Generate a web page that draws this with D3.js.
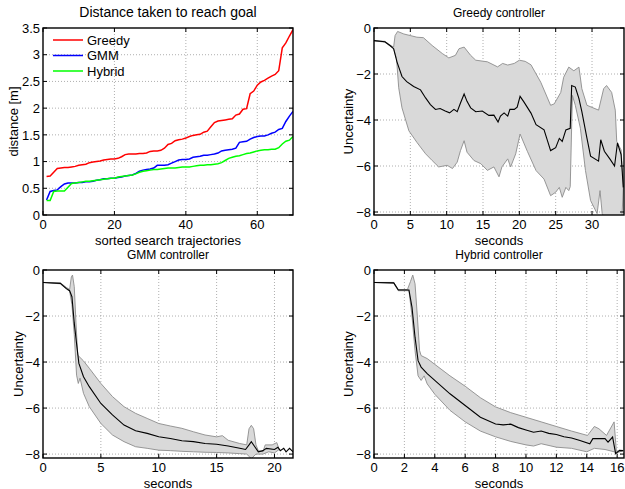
<!DOCTYPE html>
<html>
<head>
<meta charset="utf-8">
<script src="https://cdn.jsdelivr.net/npm/d3@7"></script>
<style>
  body { margin: 0; background: #fff; }
  svg { display: block; font-family: "Liberation Sans", Arial, sans-serif; }
</style>
</head>
<body>
<div id="chart"></div>
<script>
// ---- data ----
const trajIndex = d3.range(1, 71);
const greedyDist = [0.72,0.73,0.8,0.87,0.88,0.89,0.89,0.9,0.91,0.93,0.94,0.95,0.98,0.99,1.0,1.01,1.03,1.04,1.05,1.05,
  1.06,1.09,1.13,1.14,1.14,1.14,1.15,1.15,1.16,1.19,1.2,1.2,1.21,1.25,1.32,1.34,1.39,1.41,1.42,1.44,
  1.47,1.49,1.5,1.51,1.55,1.57,1.65,1.73,1.76,1.77,1.78,1.79,1.8,1.87,1.89,1.98,1.99,2.27,2.32,2.43,
  2.49,2.52,2.56,2.6,2.63,2.7,3.13,3.22,3.35,3.47];
const gmmDist = [0.28,0.44,0.46,0.47,0.53,0.58,0.6,0.6,0.6,0.61,0.61,0.62,0.62,0.63,0.65,0.66,0.68,0.68,0.69,0.69,
  0.7,0.71,0.73,0.74,0.75,0.78,0.82,0.84,0.85,0.86,0.88,0.93,0.93,0.93,0.94,0.97,1.0,1.03,1.04,1.04,
  1.05,1.08,1.09,1.1,1.12,1.12,1.13,1.14,1.16,1.2,1.21,1.22,1.23,1.25,1.36,1.37,1.38,1.42,1.45,1.47,
  1.48,1.48,1.5,1.53,1.55,1.6,1.62,1.75,1.85,1.94];
const hybridDist = [0.27,0.27,0.44,0.45,0.45,0.45,0.52,0.59,0.6,0.61,0.62,0.63,0.63,0.64,0.65,0.66,0.67,0.68,0.69,0.69,
  0.71,0.72,0.73,0.74,0.75,0.77,0.8,0.82,0.83,0.84,0.85,0.85,0.86,0.87,0.88,0.88,0.88,0.89,0.9,0.9,
  0.9,0.91,0.92,0.93,0.93,0.94,0.94,0.95,0.96,0.98,1.02,1.06,1.08,1.1,1.11,1.13,1.15,1.16,1.18,1.2,
  1.21,1.22,1.22,1.23,1.23,1.26,1.33,1.38,1.4,1.47];

// [seconds, uncertainty]
const greedyMean = [[0,-0.55],[1.5,-0.6],[2.2,-0.76],[2.7,-0.9],[3.16,-1.47],[3.85,-2.11],[4.5,-2.33],[5.46,-2.54],
  [6.4,-2.69],[7.1,-3.04],[7.76,-3.33],[8.46,-3.54],[9.1,-3.5],[9.8,-3.61],[10.4,-3.69],[11.0,-3.54],[11.45,-3.64],
  [11.9,-3.26],[12.4,-2.87],[12.8,-3.19],[13.3,-3.47],[14,-3.64],[14.9,-3.61],[15.8,-3.8],[16.5,-3.79],[17.07,-4.09],
  [17.4,-3.83],[17.9,-3.69],[18.4,-3.83],[18.7,-3.54],[19.3,-3.54],[19.7,-3.44],[20.1,-2.97],[20.6,-3.2],[21.6,-3.7],
  [22.3,-4.2],[23.4,-4.43],[23.9,-4.93],[24.3,-5.33],[25,-5.2],[25.5,-4.8],[25.9,-4.93],[26.4,-4.43],[27,-4.36],
  [27.2,-2.5],[27.7,-2.57],[28.2,-3.07],[28.6,-3.64],[29.3,-4.79],[29.8,-5.57],[30.9,-5.79],[31.2,-4.86],[31.7,-5.36],
  [32.5,-5.71],[33.1,-6.0],[33.5,-5.0],[34.0,-5.5],[34.3,-6.93]];
const greedyUpper = [[0,-0.55],[1.5,-0.58],[2.2,-0.74],[2.7,-0.83],[2.9,-0.33],[3.25,-0.15],[4.1,-0.26],[5.9,-0.4],
  [6.8,-0.42],[8,-0.76],[9.4,-1.11],[10.3,-1.3],[11.2,-1.19],[11.7,-0.9],[12.4,-0.83],[13.3,-1.19],[14,-1.4],
  [15.6,-1.47],[17,-1.69],[17.7,-1.54],[18.4,-1.61],[19.3,-1.54],[20,-1.4],[20.8,-1.45],[21.6,-1.6],[22.95,-2.36],
  [24.3,-3.36],[24.8,-3.3],[25.7,-2.8],[26.1,-2.14],[26.8,-1.7],[27.5,-1.86],[28.2,-1.7],[28.6,-2.64],[29.3,-3.36],
  [30.9,-3.57],[31.6,-2.64],[32.0,-2.5],[32.7,-2.8],[33.2,-3.57],[33.4,-4.93],[34.0,-5.3],[34.3,-6.8]];
const greedyLower = [[0,-0.55],[1.5,-0.62],[2.2,-0.78],[2.7,-0.9],[3.1,-1.33],[3.4,-2.6],[3.85,-3.47],[4.8,-4.47],
  [5.9,-4.97],[7.1,-5.47],[8,-5.76],[8.9,-6.04],[10.07,-5.97],[10.8,-6.11],[11.45,-5.83],[11.9,-5.33],[12.4,-4.9],
  [12.8,-5.4],[13.75,-5.76],[14.7,-5.9],[15.6,-6.19],[16.5,-6.04],[17.2,-6.47],[17.6,-6.04],[18.4,-5.69],[18.8,-6.04],
  [19.5,-5.47],[20.1,-4.61],[21.1,-5.36],[22.3,-6.2],[23.4,-6.57],[24.3,-7.29],[25,-7.14],[25.5,-6.93],[25.9,-7.36],
  [26.4,-6.93],[26.8,-7.07],[27.0,-6.9],[27.3,-2.93],[27.7,-3.36],[28.4,-4.36],[29.1,-6.2],[29.8,-7.5],[30.7,-8.07],
  [31.1,-7.07],[31.4,-8.07],[32.3,-8.6],[33,-9],[34,-9],[34.3,-7.0]];

const gmmMean = [[0,-0.54],[1.5,-0.58],[2,-0.8],[2.3,-0.9],[2.5,-1.16],[2.7,-2.3],[2.9,-3.2],[3.1,-4.06],[3.5,-4.64],
  [4,-5.07],[5,-5.8],[6,-6.3],[7,-6.74],[8,-6.99],[9,-7.1],[10,-7.25],[11,-7.32],[12,-7.42],[13,-7.46],[14,-7.54],
  [15,-7.57],[16,-7.65],[17,-7.75],[17.5,-7.8],[17.8,-7.6],[18,-7.46],[18.3,-7.68],[18.6,-7.9],[19,-7.85],[19.3,-7.75],
  [20,-7.8],[20.3,-7.7],[20.5,-7.85],[20.8,-7.75],[21,-7.9],[21.3,-7.75],[21.5,-7.85],[21.6,-7.9]];
const gmmUpper = [[0,-0.54],[1.5,-0.56],[2,-0.75],[2.3,-0.85],[2.45,-0.3],[2.55,-0.22],[2.7,-0.72],[2.85,-2.3],
  [3.0,-3.7],[3.5,-3.95],[4,-4.27],[5,-4.93],[6,-5.5],[7,-5.94],[8,-6.23],[9,-6.45],[10,-6.67],[11,-6.78],[12,-6.88],
  [13,-7.03],[14,-7.17],[15,-7.25],[15.5,-7.2],[16,-7.4],[17,-7.54],[17.6,-7.6],[17.8,-6.9],[18,-6.75],[18.2,-6.9],
  [18.4,-7.6],[18.6,-7.85],[19,-7.9],[19.2,-7.6],[19.8,-7.6],[20.2,-7.5],[20.4,-7.8]];
const gmmLower = [[0,-0.54],[1.5,-0.6],[2,-0.82],[2.3,-0.92],[2.5,-1.5],[2.7,-2.8],[2.9,-4.57],[3.05,-4.93],
  [3.2,-4.7],[3.5,-5.36],[4,-5.94],[5,-6.67],[6,-7.17],[7,-7.46],[8,-7.68],[9,-7.75],[10,-7.83],[11,-7.85],[12,-7.88],
  [13,-7.9],[14,-7.92],[15,-7.93],[16,-7.95],[17,-7.98],[17.6,-8.0],[18,-8.2],[18.4,-8.0],[19,-8.0],[19.5,-7.9],
  [20,-7.95],[20.4,-7.8]];

const hybridMean = [[0,-0.54],[1.3,-0.56],[1.6,-0.87],[2.3,-0.87],[2.5,-1.62],[2.7,-2.92],[2.9,-3.94],[3.1,-4.22],
  [3.5,-4.5],[4,-4.8],[5,-5.38],[6,-5.89],[7,-6.4],[8,-6.69],[8.5,-6.73],[9,-6.7],[9.5,-6.85],[10,-6.95],[10.5,-7.05],
  [11,-7.0],[11.5,-7.1],[12,-7.15],[12.5,-7.25],[13,-7.3],[13.5,-7.4],[14.2,-7.55],[14.4,-7.33],[15.2,-7.33],
  [15.4,-7.48],[15.7,-7.26],[15.9,-7.98],[16.15,-7.84],[16.4,-7.85]];
const hybridUpper = [[0,-0.54],[1.3,-0.54],[1.6,-0.85],[2.2,-0.85],[2.4,-0.5],[2.55,-0.22],[2.7,-0.6],[2.85,-2.0],
  [3.0,-3.5],[3.1,-3.72],[3.5,-3.85],[4,-4.1],[5,-4.6],[6,-5.05],[7,-5.55],[8,-5.95],[9,-6.2],[10,-6.4],[11,-6.6],
  [12,-6.8],[13,-7.0],[14.05,-7.19],[14.5,-6.8],[14.8,-6.9],[15.3,-7.19],[15.8,-6.6],[15.95,-7.9],[16.4,-7.85]];
const hybridLower = [[0,-0.54],[1.3,-0.58],[1.6,-0.9],[2.3,-0.9],[2.5,-2.0],[2.7,-3.5],[2.9,-4.6],[3.1,-4.8],
  [3.3,-4.6],[3.5,-4.95],[4,-5.4],[5,-6.1],[6,-6.6],[7,-7.0],[8,-7.25],[9,-7.45],[10,-7.6],[10.5,-7.65],[11,-7.55],
  [12,-7.7],[13,-7.75],[14,-7.9],[14.5,-7.75],[15.2,-7.8],[15.8,-7.9],[15.95,-7.95],[16.4,-7.85]];

const distTicksX = [0, 20, 40, 60];
const distTicksY = [0, 0.5, 1, 1.5, 2, 2.5, 3, 3.5];
const uncTicksY = [0, -2, -4, -6, -8];
const greedyTicksX = [0, 5, 10, 15, 20, 25, 30];
const gmmTicksX = [0, 5, 10, 15, 20];
const hybridTicksX = [0, 2, 4, 6, 8, 10, 12, 14, 16];

const legendNames = ["Greedy", "GMM", "Hybrid"];
const legendColors = ["#ff0000", "#0000ff", "#00ff00"];

// ---- drawing ----
const width = 625, height = 489;
const svg = d3.select("#chart").append("svg")
  .attr("width", width).attr("height", height);

const fmt = v => String(v).replace("-", "\u2212");

function panel(o) {
  const x = d3.scaleLinear().domain(o.xDomain).range([o.left, o.right]);
  const y = d3.scaleLinear().domain(o.yDomain).range([o.bottom, o.top]);
  const g = svg.append("g");

  const clipId = "clip" + o.id;
  g.append("clipPath").attr("id", clipId)
    .append("rect")
      .attr("x", o.left).attr("y", o.top)
      .attr("width", o.right - o.left).attr("height", o.bottom - o.top);

  // grid
  g.append("g")
      .attr("stroke", "#9a9a9a").attr("stroke-width", 0.8).attr("stroke-dasharray", "1,2")
    .call(gg => gg.selectAll("line.vx").data(o.xTicks.filter(t => t > o.xDomain[0] && t < o.xDomain[1])).join("line")
      .attr("x1", d => x(d)).attr("x2", d => x(d)).attr("y1", o.top).attr("y2", o.bottom))
    .call(gg => gg.selectAll("line.hy").data(o.yTicks.filter(t => t > o.yDomain[0] && t < o.yDomain[1])).join("line")
      .attr("x1", o.left).attr("x2", o.right).attr("y1", d => y(d)).attr("y2", d => y(d)));

  const plot = g.append("g").attr("clip-path", `url(#${clipId})`);
  o.draw(plot, x, y);

  // ticks inside on all four sides
  const tk = g.append("g").attr("stroke", "#000").attr("stroke-width", 1);
  o.xTicks.forEach(t => {
    tk.append("line").attr("x1", x(t)).attr("x2", x(t)).attr("y1", o.bottom).attr("y2", o.bottom - 4);
    tk.append("line").attr("x1", x(t)).attr("x2", x(t)).attr("y1", o.top).attr("y2", o.top + 4);
  });
  o.yTicks.forEach(t => {
    tk.append("line").attr("x1", o.left).attr("x2", o.left + 4).attr("y1", y(t)).attr("y2", y(t));
    tk.append("line").attr("x1", o.right).attr("x2", o.right - 4).attr("y1", y(t)).attr("y2", y(t));
  });

  g.append("rect")
    .attr("x", o.left).attr("y", o.top)
    .attr("width", o.right - o.left).attr("height", o.bottom - o.top)
    .attr("fill", "none").attr("stroke", "#000").attr("stroke-width", 1.4);

  // tick labels
  g.append("g").attr("font-size", 13).attr("text-anchor", "middle")
    .selectAll("text").data(o.xTicks).join("text")
      .attr("x", d => x(d)).attr("y", o.bottom + 14)
      .text(fmt);
  g.append("g").attr("font-size", 13).attr("text-anchor", "end")
    .selectAll("text").data(o.yTicks).join("text")
      .attr("x", o.left - 3).attr("y", d => y(d)).attr("dy", "0.36em")
      .text(fmt);

  // labels
  g.append("text").attr("x", (o.left + o.right) / 2).attr("y", o.bottom + 29.5)
    .attr("text-anchor", "middle").attr("font-size", 13).text(o.xLabel);
  g.append("text")
    .attr("transform", `translate(${o.yLabelX},${(o.top + o.bottom) / 2}) rotate(-90)`)
    .attr("text-anchor", "middle").attr("dy", "0.36em").attr("font-size", 13).text(o.yLabel);
  g.append("text").attr("x", (o.left + o.right) / 2).attr("y", o.top - 11)
    .attr("text-anchor", "middle").attr("font-size", o.titleSize || 12).text(o.title);
}

function bandPanel(upper, lower, mean) {
  return (plot, x, y) => {
    const line = d3.line().x(d => x(d[0])).y(d => y(d[1]));
    const poly = upper.concat(lower.slice().reverse());
    plot.append("path")
      .attr("d", line(poly) + "Z")
      .attr("fill", "#d9d9d9").attr("stroke", "#8c8c8c").attr("stroke-width", 0.9);
    plot.append("path")
      .attr("d", line(mean))
      .attr("fill", "none").attr("stroke", "#000").attr("stroke-width", 1.1);
  };
}

// distance panel
panel({
  id: 1, left: 43, right: 293, top: 28, bottom: 215,
  xDomain: [0, 70], yDomain: [0, 3.5], xTicks: distTicksX, yTicks: distTicksY,
  xLabel: "sorted search trajectories", yLabel: "distance [m]", yLabelX: 13,
  title: "Distance taken to reach goal", titleSize: 14,
  draw: (plot, x, y) => {
    const series = [greedyDist, gmmDist, hybridDist];
    series.forEach((s, i) => {
      plot.append("path")
        .attr("d", d3.line().x((d, j) => x(trajIndex[j])).y(d => y(d))(s))
        .attr("fill", "none").attr("stroke", legendColors[i]).attr("stroke-width", 1.5);
    });
  }
});

// legend
const leg = svg.append("g");
legendNames.forEach((n, i) => {
  const ly = 40 + i * 15.5;
  leg.append("line").attr("x1", 53).attr("x2", 83).attr("y1", ly).attr("y2", ly)
    .attr("stroke", legendColors[i]).attr("stroke-width", 1.5);
  leg.append("text").attr("x", 87).attr("y", ly).attr("dy", "0.36em")
    .attr("font-size", 13).text(n);
});

panel({
  id: 2, left: 374, right: 624, top: 28, bottom: 215,
  xDomain: [0, 34.4], yDomain: [-8.13, 0], xTicks: greedyTicksX, yTicks: uncTicksY,
  xLabel: "seconds", yLabel: "Uncertainty", yLabelX: 348,
  title: "Greedy controller",
  draw: bandPanel(greedyUpper, greedyLower, greedyMean)
});

panel({
  id: 3, left: 43, right: 293, top: 270, bottom: 458,
  xDomain: [0, 21.6], yDomain: [-8.17, 0], xTicks: gmmTicksX, yTicks: uncTicksY,
  xLabel: "seconds", yLabel: "Uncertainty", yLabelX: 18,
  title: "GMM controller",
  draw: bandPanel(gmmUpper, gmmLower, gmmMean)
});

panel({
  id: 4, left: 374, right: 624, top: 270, bottom: 458,
  xDomain: [0, 16.45], yDomain: [-8.17, 0], xTicks: hybridTicksX, yTicks: uncTicksY,
  xLabel: "seconds", yLabel: "Uncertainty", yLabelX: 348,
  title: "Hybrid controller",
  draw: bandPanel(hybridUpper, hybridLower, hybridMean)
});
</script>
</body>
</html>
